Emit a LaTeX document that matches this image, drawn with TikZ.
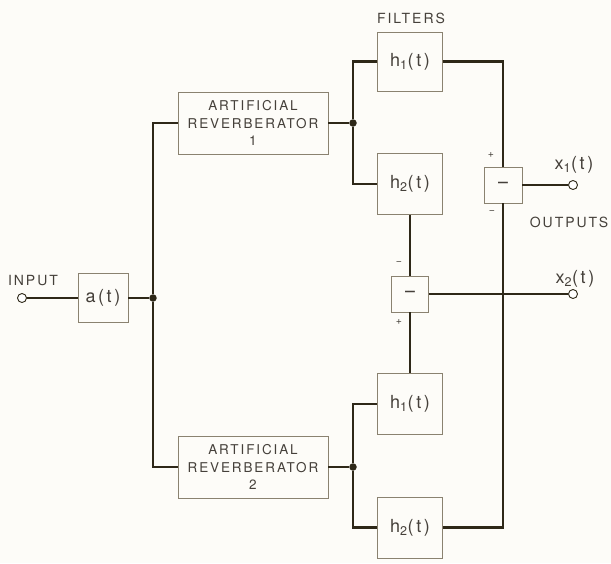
\documentclass[tikz,border=0pt]{standalone}
\usepackage{fontspec}
\setmainfont{TeX Gyre Heros}[LetterSpace=14]
\definecolor{bg}{HTML}{FDFCF8}
\definecolor{wirec}{HTML}{2E2818}
\definecolor{boxc}{HTML}{8A8270}
\definecolor{txtc}{HTML}{45403A}
\begin{document}
\begin{tikzpicture}[x=1pt,y=-1pt,
  box/.style={draw=boxc, line width=0.8pt, fill=bg, inner sep=0pt, text=txtc},
  fbox/.style={box, minimum width=65pt, minimum height=61pt, font=\fontsize{18}{20}\selectfont},
  rbox/.style={box, minimum width=150pt, minimum height=62pt, align=center, font=\fontsize{13.5}{17.5}\selectfont},
  mbox/.style={box, minimum width=37pt, minimum height=36pt, font=\fontsize{18}{20}\selectfont},
  wire/.style={draw=wirec, line width=2.2pt},
  jdot/.style={circle, fill=wirec, minimum size=7.5pt, inner sep=0pt},
  port/.style={circle, draw=wirec, line width=0.9pt, fill=white, minimum size=9pt, inner sep=0pt},
  lab/.style={text=txtc, font=\fontsize{14}{16}\selectfont, inner sep=0pt},
  sign/.style={text=txtc, font=\fontsize{10.5}{11}\selectfont, inner sep=0pt}]
\useasboundingbox[fill=bg] (0,0) rectangle (611,563);

% nodes
\node[port] (in) at (22,298) {};
\node[mbox, minimum width=50pt, minimum height=49pt] (a) at (103,298) {a(t)};
\node[jdot] (d1) at (153,298) {};
\node[rbox] (R1) at (253,123) {ARTIFICIAL\\REVERBERATOR\\1};
\node[rbox] (R2) at (253,467) {ARTIFICIAL\\REVERBERATOR\\2};
\node[jdot] (d2) at (353,123) {};
\node[jdot] (d3) at (353,467) {};
\node[fbox, minimum height=59pt] (h1a) at (410,61.5) {h\textsubscript{1}(t)};
\node[fbox] (h2a) at (410,184) {h\textsubscript{2}(t)};
\node[fbox] (h1b) at (410,404) {h\textsubscript{1}(t)};
\node[fbox] (h2b) at (410,527.5) {h\textsubscript{2}(t)};
\node[mbox, minimum width=38pt, font=\fontsize{22}{22}\selectfont] (mA) at (503,185) {\textminus};
\node[mbox, font=\fontsize{22}{22}\selectfont] (mB) at (410,294) {\textminus};
\node[port] (oA) at (573,185) {};
\node[port] (oB) at (573,294) {};

% labels
\node[lab] (tin) at (33,281) {INPUT};
\node[lab] (tfil) at (411,18) {FILTERS};
\node[lab] (tout) at (569,222) {OUTPUTS};
\node[lab, font=\fontsize{18}{20}\selectfont] (tx1) at (574,165) {x\textsubscript{1}(t)};
\node[lab, font=\fontsize{18}{20}\selectfont] (tx2) at (575,279) {x\textsubscript{2}(t)};
\node[sign] (pA) at (491,155) {+};
\node[sign] (nA) at (492,212) {\textminus};
\node[sign] (nB) at (399,263) {\textminus};
\node[sign] (pB) at (399,322) {+};

% wires
\draw[wire] (in) -- (a);
\draw[wire] (a) -- (d1);
\draw[wire] (R1.west) -| (d1);
\draw[wire] (R2.west) -| (d1);
\draw[wire] (R1.east) -- (d2);
\draw[wire] (R2.east) -- (d3);
\draw[wire] (d2) |- (h1a.west);
\draw[wire] (d2) |- (h2a.west);
\draw[wire] (d3) |- (h1b.west);
\draw[wire] (d3) |- (h2b.west);
\draw[wire] (h1a.east) -| (mA.north);
\draw[wire] (h2b.east) -| (mA.south);
\draw[wire] (mA.east) -- (oA);
\draw[wire] (h2a.south) -- (mB.north);
\draw[wire] (mB.south) -- (h1b.north);
\draw[wire] (mB.east) -- (oB);
\end{tikzpicture}
\end{document}
